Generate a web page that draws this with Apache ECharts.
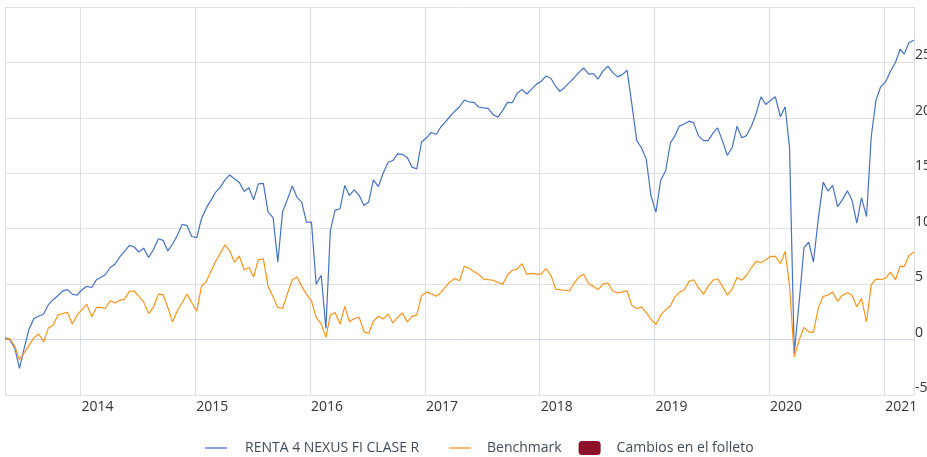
<!DOCTYPE html>
<html>
<head>
<meta charset="utf-8">
<script src="https://cdn.jsdelivr.net/npm/echarts@6/dist/echarts.min.js"></script>
<style>
  html, body { margin: 0; padding: 0; background: #fff; }
  #chart { width: 927px; height: 457px; }
</style>
</head>
<body>
<div id="chart"></div>
<script>
// semi-monthly sample dates (6th and 21st of each month), May 2013 - Apr 2021
const startDate = '2013-05-06';
const endDate = '2021-04-06';
const dates = [];
for (let y = 2013, m = 5; dates.length < 191; m++) {
  if (m > 12) { m = 1; y++; }
  const mm = String(m).padStart(2, '0');
  dates.push(`${y}-${mm}-06`);
  if (dates.length < 191) dates.push(`${y}-${mm}-21`);
}

const fundValues = [
  0.18, 0.0, -0.75, -2.6, -0.8, 0.9, 1.9, 2.1, 2.3, 3.15,
  3.6, 3.95, 4.4, 4.5, 4.1, 4.0, 4.5, 4.8, 4.7, 5.4,
  5.6, 5.85, 6.5, 6.8, 7.45, 7.95, 8.5, 8.35, 7.9, 8.25,
  7.4, 8.1, 9.1, 8.95, 8.0, 8.6, 9.45, 10.4, 10.28, 9.3,
  9.2, 10.9, 11.9, 12.6, 13.25, 13.7, 14.4, 14.85, 14.5, 14.2,
  13.35, 13.7, 12.6, 14.05, 14.09, 11.5, 11.0, 7.0, 11.5, 12.6,
  13.85, 12.83, 12.4, 10.6, 10.6, 5.0, 5.8, 1.0, 9.8, 11.65,
  11.8, 13.9, 13.0, 13.5, 13.0, 12.1, 12.4, 14.4, 13.8, 15.0,
  16.0, 16.15, 16.75, 16.7, 16.43, 15.55, 15.4, 17.8, 18.2, 18.68,
  18.5, 19.2, 19.6, 20.1, 20.6, 21.0, 21.6, 21.45, 21.4, 20.98,
  20.9, 20.86, 20.3, 20.05, 20.7, 21.4, 21.37, 22.2, 22.57, 22.15,
  22.57, 23.02, 23.3, 23.77, 23.55, 22.85, 22.4, 22.72, 23.2, 23.62,
  24.1, 24.5, 23.95, 24.0, 23.5, 24.22, 24.67, 24.1, 23.7, 23.9,
  24.3, 21.3, 17.95, 17.3, 16.3, 13.0, 11.5, 14.35, 15.25, 17.75,
  18.3, 19.25, 19.45, 19.7, 19.55, 18.4, 17.95, 17.95, 18.6, 19.1,
  17.9, 16.6, 17.35, 19.25, 18.2, 18.4, 19.27, 20.4, 21.9, 21.2,
  21.58, 21.9, 20.1, 21.0, 17.3, -1.2, 3.5, 8.3, 8.78, 7.0,
  11.0, 14.2, 13.4, 13.9, 12.0, 12.6, 13.43, 12.55, 10.5, 12.8,
  11.1, 18.3, 21.6, 22.8, 23.25, 24.2, 25.0, 26.2, 25.75, 26.8,
  27.0
];

const benchmarkValues = [
  0.0, 0.1, -0.6, -1.8, -1.2, -0.55, 0.15, 0.5, -0.2, 1.05,
  1.3, 2.2, 2.35, 2.45, 1.4, 2.2, 2.7, 3.2, 2.05, 2.9,
  2.9, 2.8, 3.5, 3.3, 3.54, 3.65, 4.35, 4.38, 3.9, 3.4,
  2.34, 2.9, 4.1, 4.05, 2.9, 1.6, 2.64, 3.35, 4.1, 3.35,
  2.55, 4.8, 5.28, 6.2, 7.0, 7.73, 8.55, 8.0, 6.95, 7.55,
  6.3, 6.5, 5.65, 7.2, 7.28, 4.8, 3.85, 2.9, 2.8, 4.1,
  5.4, 5.64, 4.8, 4.1, 3.5, 2.0, 1.4, 0.2, 2.2, 2.45,
  1.4, 3.0, 1.6, 1.9, 2.0, 0.7, 0.55, 1.65, 2.1, 1.85,
  2.3, 1.5, 2.0, 2.4, 1.6, 2.1, 2.2, 3.95, 4.28, 4.14,
  3.9, 4.25, 4.7, 5.2, 5.5, 5.3, 6.6, 6.45, 6.15, 5.9,
  5.45, 5.4, 5.35, 5.15, 5.0, 5.85, 6.25, 6.35, 6.85, 5.9,
  5.97, 5.9, 5.9, 6.4, 5.8, 4.55, 4.5, 4.45, 4.38, 5.1,
  5.65, 5.9, 5.04, 4.8, 4.5, 5.0, 5.1, 4.4, 4.2, 4.3,
  4.4, 3.1, 2.8, 2.95, 2.45, 1.85, 1.35, 2.2, 2.7, 3.05,
  3.8, 4.25, 4.5, 5.25, 5.4, 4.68, 4.1, 4.8, 5.35, 5.49,
  4.8, 4.0, 4.6, 5.6, 5.35, 5.8, 6.5, 7.05, 6.93, 7.2,
  7.5, 7.5, 6.85, 7.95, 4.9, -1.55, 0.0, 1.1, 0.7, 0.65,
  2.9, 3.9, 4.0, 4.3, 3.45, 4.0, 4.23, 4.0, 2.95, 3.69,
  1.6, 4.95, 5.45, 5.4, 5.55, 6.08, 5.4, 6.6, 6.6, 7.58,
  7.9
];

const seriesNames = ['RENTA 4 NEXUS FI CLASE R', 'Benchmark', 'Cambios en el folleto'];
const seriesColors = ['#4472c4', '#ff9319', '#8c1029'];

const lineIcon = 'path://M0,0H22V1.3H0Z';
const font = "'Open Sans', 'Noto Sans', sans-serif";

const makeLine = (idx, values) => ({
  name: seriesNames[idx],
  type: 'line',
  showSymbol: false,
  symbol: 'none',
  color: seriesColors[idx],
  lineStyle: { width: 1.2, color: seriesColors[idx] },
  data: dates.map((d, i) => [d, values[i]]),
});

const legendBase = {
  top: 441,
  padding: 0,
  itemWidth: 22,
  itemHeight: 14,
  itemGap: 17,
  selectedMode: false,
};
const legendText = { fontFamily: font, fontSize: 14, color: '#404b5a' };

const option = {
  animation: false,
  backgroundColor: '#fff',
  textStyle: { fontFamily: font },
  legend: [
    {
      ...legendBase,
      left: 205,
      textStyle: { ...legendText, padding: [0, 0, 0, 13] },
      data: [{ name: seriesNames[0], icon: lineIcon }],
    },
    {
      ...legendBase,
      left: 449,
      textStyle: { ...legendText, padding: [0, 0, 0, 11] },
      data: [
        { name: seriesNames[1], icon: lineIcon },
        { name: seriesNames[2], icon: 'roundRect' },
      ],
    },
  ],
  grid: {
    left: 5,
    right: 13,
    top: 7,
    bottom: 62,
    containLabel: false,
    outerBoundsMode: 'none',
  },
  xAxis: {
    type: 'time',
    min: startDate,
    max: endDate,
    minInterval: 365 * 24 * 3600 * 1000,
    splitNumber: 8,
    axisLine: { show: true, lineStyle: { color: '#ccd6eb', width: 1 } },
    axisTick: { show: true, length: 4, lineStyle: { color: '#ccd6eb' } },
    splitLine: { show: true, lineStyle: { color: '#dadde3', width: 1 } },
    axisLabel: {
      formatter: '{yyyy}',
      align: 'left',
      margin: 5,
      padding: [0, 0, 0, 1],
      color: '#333333',
      fontSize: 14,
      fontFamily: font,
      showMinLabel: false,
      showMaxLabel: false,
    },
  },
  yAxis: {
    type: 'value',
    position: 'right',
    min: -5,
    max: 30,
    interval: 5,
    axisLine: { show: false },
    axisTick: { show: false },
    splitLine: { show: true, lineStyle: { color: '#e0e0e0', width: 1 } },
    axisLabel: {
      formatter: (v) => (v === 30 ? '' : String(v)),
      align: 'left',
      verticalAlign: 'bottom',
      margin: 1,
      color: '#333333',
      fontSize: 14,
      fontFamily: font,
    },
  },
  series: [
    makeLine(0, fundValues),
    makeLine(1, benchmarkValues),
    { name: seriesNames[2], type: 'line', color: seriesColors[2], data: [] },
  ],
};

const myChart = echarts.init(document.getElementById('chart'));
myChart.setOption(option);
</script>
</body>
</html>
